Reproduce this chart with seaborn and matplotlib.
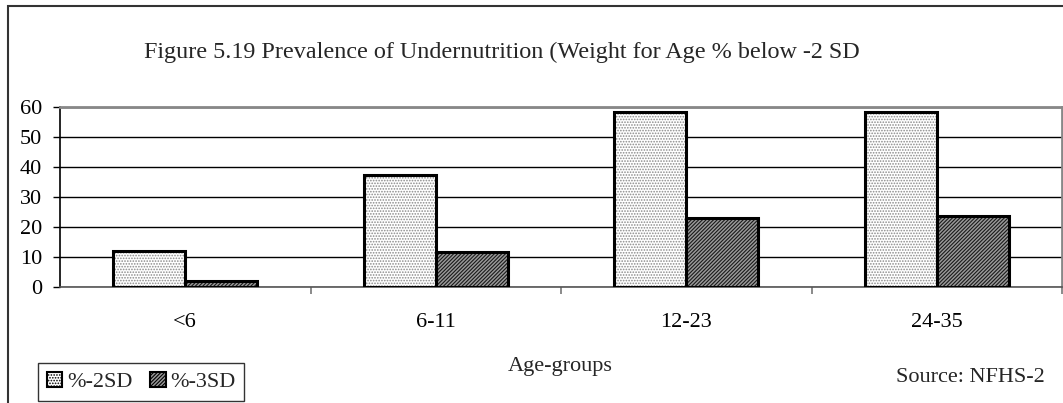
"""
Figure 5.19: prevalence of undernutrition (weight for age) by age group.
"""

import matplotlib.pyplot as plt
import pandas as pd
import seaborn as sns
from matplotlib.patches import Rectangle
from matplotlib.ticker import FixedLocator

age_groups = ["<6", "6-11", "12-23", "24-35"]
series_names = ["%-2SD", "%-3SD"]
below_2sd = [12.0, 37.5, 58.5, 58.2]
below_3sd = [2.0, 11.8, 23.0, 23.8]
y_ticks = [0, 10, 20, 30, 40, 50, 60]

TITLE = "Figure 5.19 Prevalence of Undernutrition (Weight for Age % below -2 SD"

df = pd.DataFrame(
    {
        "age": age_groups * 2,
        "series": [series_names[0]] * len(age_groups) + [series_names[1]] * len(age_groups),
        "value": below_2sd + below_3sd,
    }
)

sns.set_theme(style="white")
plt.rcParams["font.family"] = ["Liberation Serif", "DejaVu Serif"]
plt.rcParams["hatch.linewidth"] = 0.8

W, H = 1063, 403
fig = plt.figure(figsize=(W / 100, H / 100), dpi=100)
ax = fig.add_axes([60 / W, (H - 287) / H, (1062 - 60) / W, (287 - 107) / H])

sns.barplot(
    data=df, x="age", y="value", hue="series", order=age_groups,
    hue_order=series_names, width=0.576, gap=0, ax=ax, legend=False,
    palette=["white", "#c8c8c8"], saturation=1, errorbar=None,
)

# hatch styles per series: (face, hatch, hatch colour)
styles = {
    0: ("white", "......", "#8a8a8a"),
    1: ("#9a9a9a", "/////////", "#1a1a1a"),
}
n = len(age_groups)
for i, bar in enumerate(ax.patches[: 2 * n]):
    face, hatch, hcol = styles[i // n]
    bar.set_facecolor(face)
    bar.set_hatch(hatch)
    bar.set_edgecolor(hcol)
    bar.set_linewidth(0)
    outline = Rectangle(bar.get_xy(), bar.get_width(), bar.get_height(),
                        fill=False, edgecolor="black", linewidth=2.2, zorder=3)
    ax.add_patch(outline)

ax.set_ylim(0, 60)
ax.set_xlim(-0.5, n - 0.5)
ax.set_yticks(y_ticks)
ax.yaxis.grid(True, color="black", linewidth=1)
ax.set_axisbelow(True)

for side in ["top", "right"]:
    ax.spines[side].set_color("#888888")
    ax.spines[side].set_linewidth(2)
ax.spines["left"].set_color("black")
ax.spines["left"].set_linewidth(1.2)
ax.spines["bottom"].set_color("#555555")
ax.spines["bottom"].set_linewidth(1.2)

ax.tick_params(axis="y", left=True, length=5, width=1, color="black",
               pad=8, labelsize=16, labelcolor="black")
ax.tick_params(axis="x", which="major", length=0, pad=19, labelsize=16,
               labelcolor="black")
ax.xaxis.set_minor_locator(FixedLocator([k + 0.5 for k in range(n)]))
ax.tick_params(axis="x", which="minor", bottom=True, length=5, width=1.2,
               color="#777777", direction="out")
ax.set_xlabel("")
ax.set_ylabel("")

fig.text(502 / W, 1 - 52 / H, TITLE, ha="center", va="center", fontsize=17.4)
fig.text(560 / W, 1 - 366 / H, "Age-groups", ha="center", va="center", fontsize=16)
fig.text(1045 / W, 1 - 378 / H, "Source: NFHS-2", ha="right", va="center", fontsize=16)

# outer chart frame (only left and top edges visible)
frame = Rectangle((8 / W, -0.1), 1.2, 1 - 6 / H + 0.1, transform=fig.transFigure,
                  fill=False, edgecolor="#333333", linewidth=1.5)
fig.add_artist(frame)

handles = []
for k in range(2):
    face, hatch, hcol = styles[k]
    handles.append(Rectangle((0, 0), 1, 1, facecolor=face, hatch=hatch,
                             edgecolor="black", linewidth=1.5))
leg = fig.legend(handles, series_names, loc="upper left",
                 bbox_to_anchor=(38 / W, 1 - 363 / H), ncol=2, fontsize=16,
                 frameon=True, fancybox=False, edgecolor="black",
                 handlelength=0.7, handleheight=0.7, handletextpad=0.2,
                 columnspacing=0.8, borderpad=0.4, borderaxespad=0)
leg.get_frame().set_linewidth(1)

fig.savefig("out.png", dpi=100)
